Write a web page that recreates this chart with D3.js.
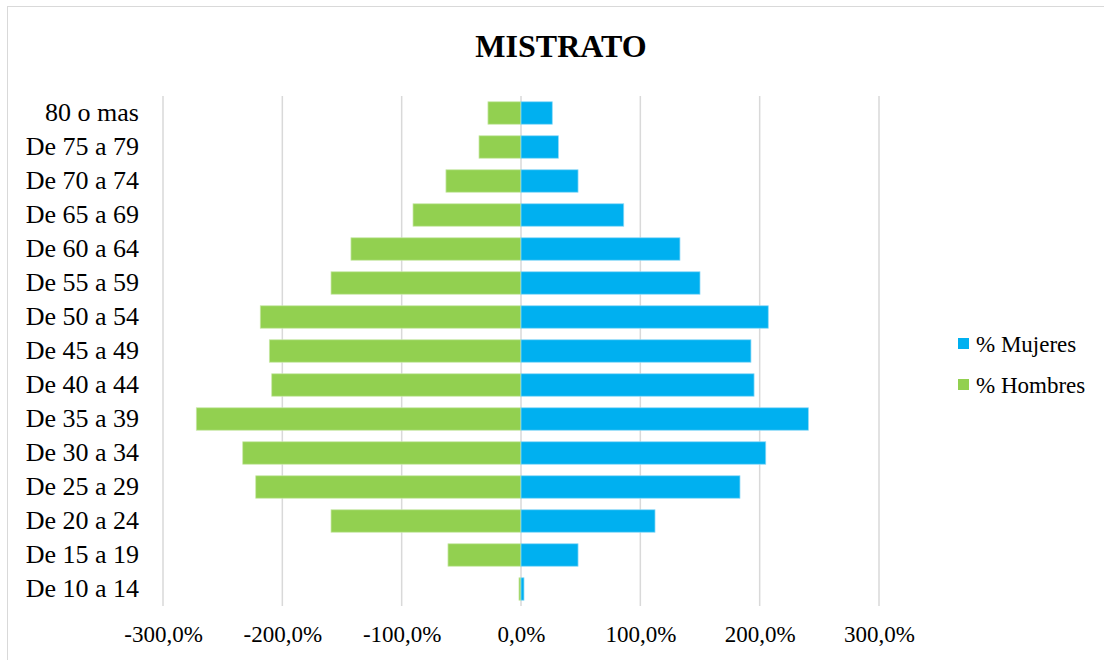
<!DOCTYPE html>
<html>
<head>
<meta charset="utf-8">
<script src="https://cdn.jsdelivr.net/npm/d3@7"></script>
<style>
	body { margin: 0; background: #fff; }
	text { font-family: "Liberation Serif", "Times New Roman", serif; fill: #000; }
</style>
</head>
<body>
<div id="wrapper"></div>
<script>

	// 1. Data

	const ageGroups = ["80 o mas", "De 75 a 79", "De 70 a 74", "De 65 a 69", "De 60 a 64",
		"De 55 a 59", "De 50 a 54", "De 45 a 49", "De 40 a 44", "De 35 a 39",
		"De 30 a 34", "De 25 a 29", "De 20 a 24", "De 15 a 19", "De 10 a 14"];

	const mujeres = [26.2, 31.3, 47.8, 86.1, 133.2, 150.0, 207.2, 192.7, 195.3, 240.8,
		205.1, 183.5, 112.3, 47.8, 2.5];

	const hombres = [-27.7, -35.2, -62.9, -90.5, -142.5, -159.2, -218.5, -210.9, -208.9, -272.1,
		-233.2, -222.3, -159.2, -61.2, -1.7];

	const tickValues = [-300, -200, -100, 0, 100, 200, 300];

	const seriesNames = ["% Mujeres", "% Hombres"];
	const seriesColors = ["#00B0F0", "#92D050"];

	// 2. Dimensions

	const dimensions = {
		width: 1104,
		height: 660,
		margin: { top: 96, right: 225, bottom: 54, left: 163 }
	};
	dimensions.boundedWidth = dimensions.width - dimensions.margin.left - dimensions.margin.right;
	dimensions.boundedHeight = dimensions.height - dimensions.margin.top - dimensions.margin.bottom;

	const wrapper = d3.select("#wrapper")
		.append("svg")
		.attr("width", dimensions.width)
		.attr("height", dimensions.height);

	// chart border
	wrapper.append("rect")
		.attr("x", 7.5)
		.attr("y", 6.5)
		.attr("width", dimensions.width + 10)
		.attr("height", dimensions.height + 10)
		.attr("fill", "none")
		.attr("stroke", "#d9d9d9")
		.attr("stroke-width", 1);

	wrapper.append("text")
		.attr("x", 561)
		.attr("y", 57)
		.attr("text-anchor", "middle")
		.style("font-size", "32px")
		.style("font-weight", "bold")
		.text("MISTRATO");

	const bounds = wrapper.append("g")
		.attr("transform", `translate(${dimensions.margin.left}, ${dimensions.margin.top})`);

	// 3. Scales

	const xScale = d3.scaleLinear()
		.domain([-300, 300])
		.range([0, dimensions.boundedWidth]);

	const yScale = d3.scaleBand()
		.domain(ageGroups)
		.range([0, dimensions.boundedHeight])
		.paddingInner(0.34)
		.paddingOuter(0.17);

	// 4. Gridlines

	bounds.selectAll(".grid")
		.data(tickValues)
		.join("line")
		.attr("class", "grid")
		.attr("x1", d => xScale(d))
		.attr("x2", d => xScale(d))
		.attr("y1", 0)
		.attr("y2", dimensions.boundedHeight)
		.attr("stroke", "#d9d9d9")
		.attr("stroke-width", 1.5);

	// 5. Bars

	const rows = ageGroups.map((g, i) => ({ group: g, m: mujeres[i], h: hombres[i] }));

	bounds.selectAll(".bar-h")
		.data(rows)
		.join("rect")
		.attr("class", "bar-h")
		.attr("x", d => xScale(d.h))
		.attr("y", d => yScale(d.group))
		.attr("width", d => xScale(0) - xScale(d.h))
		.attr("height", yScale.bandwidth())
		.attr("fill", seriesColors[1])
		.attr("stroke", "#c9e8a8")
		.attr("stroke-width", 0.75);

	bounds.selectAll(".bar-m")
		.data(rows)
		.join("rect")
		.attr("class", "bar-m")
		.attr("x", xScale(0))
		.attr("y", d => yScale(d.group))
		.attr("width", d => xScale(d.m) - xScale(0))
		.attr("height", yScale.bandwidth())
		.attr("fill", seriesColors[0])
		.attr("stroke", "#8ad8f7")
		.attr("stroke-width", 0.75);

	// 6. Axes

	const xAxis = d3.axisBottom(xScale)
		.tickValues(tickValues)
		.tickSize(0)
		.tickPadding(20)
		.tickFormat(d => d3.format(".1f")(d).replace(".", ",").replace("\u2212", "-") + "%");

	const xAxisGroup = bounds.append("g")
		.attr("transform", `translate(0, ${dimensions.boundedHeight})`)
		.call(xAxis);
	xAxisGroup.select(".domain").remove();
	xAxisGroup.selectAll("text")
		.style("font-size", "23px")
		.style("font-family", "Liberation Serif, serif")
		.attr("fill", "#000");

	const yAxis = d3.axisLeft(yScale)
		.tickSize(0)
		.tickPadding(24);

	const yAxisGroup = bounds.append("g")
		.call(yAxis);
	yAxisGroup.select(".domain").remove();
	yAxisGroup.selectAll("text")
		.style("font-size", "26px")
		.style("font-family", "Liberation Serif, serif")
		.attr("fill", "#000");

	// 7. Legend

	const legend = wrapper.append("g")
		.attr("transform", "translate(958, 338)");

	const legendItems = legend.selectAll(".legend-item")
		.data(seriesNames)
		.join("g")
		.attr("class", "legend-item")
		.attr("transform", (d, i) => `translate(0, ${i * 41})`);

	legendItems.append("rect")
		.attr("width", 11)
		.attr("height", 11)
		.attr("fill", (d, i) => seriesColors[i]);

	legendItems.append("text")
		.attr("x", 18)
		.attr("y", 14)
		.style("font-size", "23px")
		.text(d => d);

</script>
</body>
</html>
